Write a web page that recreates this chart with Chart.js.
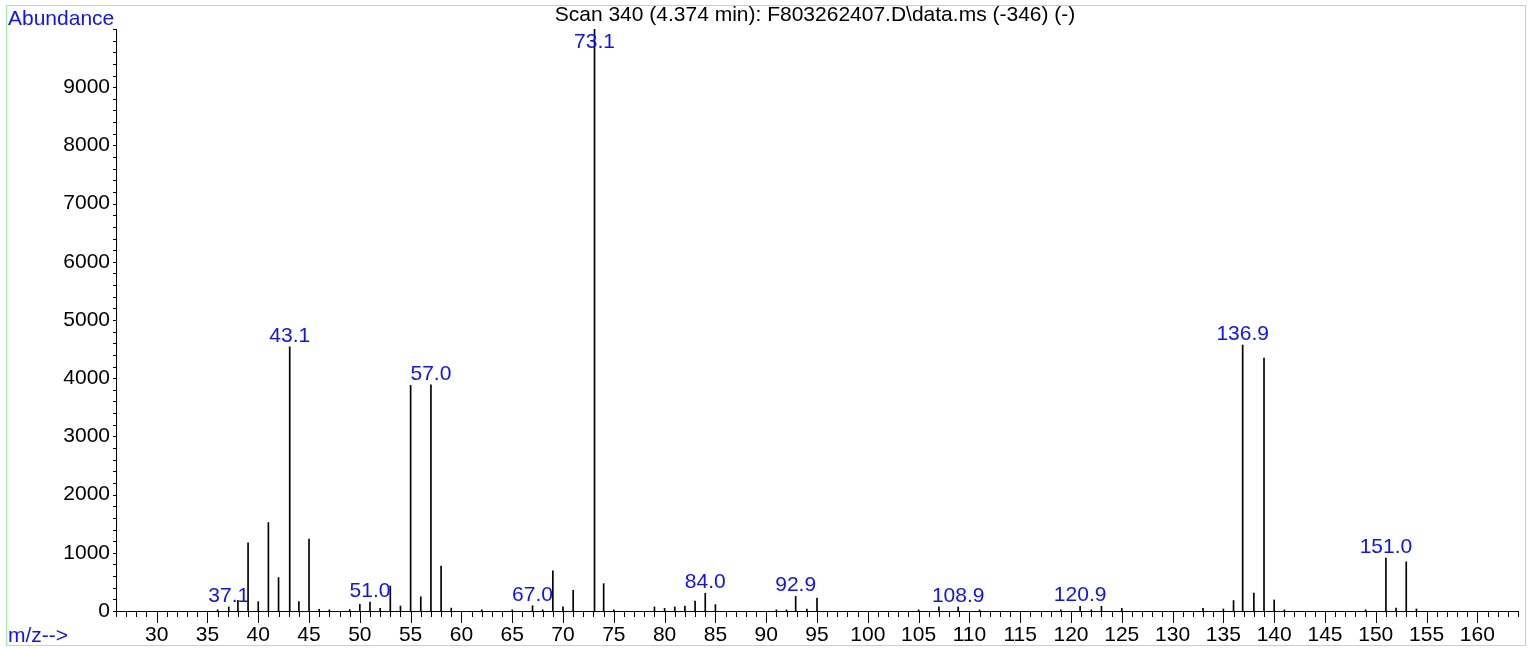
<!DOCTYPE html>
<html>
<head>
<meta charset="utf-8">
<script src="https://cdn.jsdelivr.net/npm/chart.js@4/dist/chart.umd.min.js"></script>
<style>
  html, body { margin: 0; padding: 0; background: #fff; }
  canvas { display: block; }
</style>
</head>
<body>
<canvas id="spectrum" width="1529" height="649"></canvas>
<script>
// scan 340 mass spectrum
const mz = [36, 37.1, 38, 39, 40, 41, 42, 43.1, 44, 45, 46, 47, 49, 50, 51.0, 52, 53, 54, 55, 56,
  57.0, 58, 59, 62, 65, 67.0, 68, 69, 70, 71, 73.1, 74, 75, 79, 80, 81, 82, 83, 84.0, 85,
  91, 92, 92.9, 94, 95, 105, 107, 108.9, 111, 119, 120.9, 122, 123, 125, 133, 135, 136, 136.9,
  138, 139, 140, 141, 149, 151.0, 152, 153, 154];
const abundance = [20, 70, 185, 1170, 160, 1520, 575, 4540, 160, 1235, 30, 20, 25, 115, 155, 45, 430, 85, 3875, 245,
  3885, 770, 50, 20, 20, 90, 20, 690, 70, 355, 10000, 470, 20, 70, 45, 70, 85, 170, 305, 110,
  20, 20, 250, 35, 220, 20, 70, 70, 20, 20, 80, 20, 80, 45, 45, 35, 180, 4570,
  310, 4345, 190, 20, 20, 910, 50, 845, 35];
// peaks that get their m/z written above them
const labelledPeaks = [37.1, 43.1, 51.0, 57.0, 67.0, 73.1, 84.0, 92.9, 108.9, 120.9, 136.9, 151.0];

const titleText = 'Scan 340 (4.374 min): F803262407.D\\data.ms (-346) (-)';
const FONT = '"Liberation Sans", Arial, sans-serif';
const BLUE = '#1010ff';

// minor/major ticks, frame, titles and peak labels
const decorations = {
  id: 'decorations',
  afterDraw(chart) {
    const ctx = chart.ctx;
    const xs = chart.scales.x, ys = chart.scales.y;
    const area = chart.chartArea;
    ctx.save();

    ctx.strokeStyle = '#000';
    ctx.lineWidth = 1;
    ctx.beginPath();
    for (let v = Math.ceil(xs.min); v <= xs.max; v++) {
      const px = Math.round(xs.getPixelForValue(v)) + 0.5;
      const len = v % 5 === 0 ? 12 : 6;
      ctx.moveTo(px, area.bottom);
      ctx.lineTo(px, area.bottom + len);
    }
    for (let v = 0; v <= ys.max; v += 200) {
      const py = Math.round(ys.getPixelForValue(v)) + 0.5;
      ctx.moveTo(area.left - 3, py);
      ctx.lineTo(area.left, py);
    }
    ctx.stroke();

    // outer frame
    ctx.strokeStyle = '#9cf09c';
    ctx.strokeRect(6.5, 5.5, 1519, 640);

    ctx.font = '21px ' + FONT;
    ctx.fillStyle = '#000';
    ctx.textAlign = 'center';
    ctx.textBaseline = 'alphabetic';
    ctx.fillText(titleText, (area.left + area.right) / 2 - 2, 21);

    ctx.fillStyle = BLUE;
    ctx.textAlign = 'left';
    ctx.fillText('Abundance', 8, 25);
    ctx.fillText('m/z-->', 8, 642);

    // m/z labels above the peaks
    ctx.textAlign = 'center';
    const meta = chart.getDatasetMeta(0);
    meta.data.forEach((bar, i) => {
      if (!labelledPeaks.includes(mz[i])) return;
      const base = Math.max(bar.y - 5, area.top + 19);
      ctx.fillText(mz[i].toFixed(1), bar.x, base);
    });
    ctx.restore();
  }
};

new Chart(document.getElementById('spectrum'), {
  type: 'bar',
  data: {
    datasets: [{
      data: mz.map((x, i) => ({ x: x, y: abundance[i] })),
      backgroundColor: '#000',
      borderWidth: 0,
      barThickness: 1
    }]
  },
  options: {
    responsive: false,
    animation: false,
    devicePixelRatio: 1,
    layout: { padding: { top: 29, right: 11, left: 0, bottom: 0 } },
    plugins: { legend: { display: false }, tooltip: { enabled: false } },
    scales: {
      x: {
        type: 'linear',
        offset: false,
        min: 26,
        max: 164,
        grid: { display: false, drawTicks: false, offset: false },
        border: { display: true, color: '#000' },
        ticks: {
          stepSize: 5,
          includeBounds: false,
          autoSkip: false,
          maxRotation: 0,
          padding: 12,
          color: '#000',
          font: { family: FONT, size: 21 }
        },
        afterFit: s => { s.height = 38; }
      },
      y: {
        min: 0,
        max: 10000,
        grid: { display: false, drawTicks: false },
        border: { display: true, color: '#000' },
        ticks: {
          stepSize: 1000,
          padding: 6,
          color: '#000',
          font: { family: FONT, size: 21 },
          callback: v => (v < 10000 ? v : '')
        },
        afterFit: s => { s.width = 116; }
      }
    }
  },
  plugins: [decorations]
});
</script>
</body>
</html>
